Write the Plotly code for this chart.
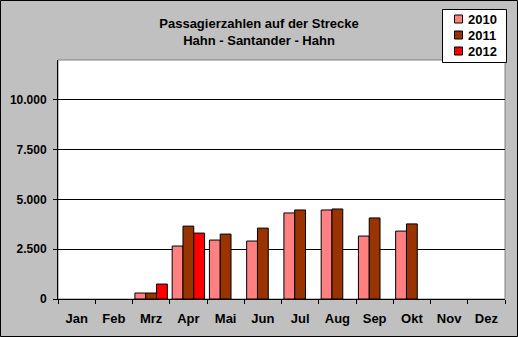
import plotly.graph_objects as go

months = ["Jan", "Feb", "Mrz", "Apr", "Mai", "Jun", "Jul", "Aug", "Sep", "Okt", "Nov", "Dez"]
v2010 = [None, None, 300, 2660, 2960, 2910, 4320, 4470, 3160, 3410, None, None]
v2011 = [None, None, 300, 3660, 3260, 3560, 4470, 4520, 4070, 3770, None, None]
v2012 = [None, None, 750, 3310, None, None, None, None, None, None, None, None]
series = [("2010", v2010, "#FF8080"), ("2011", v2011, "#993300"), ("2012", v2012, "#FF0000")]
yticks = [0, 2500, 5000, 7500, 10000]

W, H = 518, 337
L, R, T, B = 58, 13, 60, 38
pw, ph = W - L - R, H - T - B

font = "Liberation Sans, Arial, sans-serif"

fig = go.Figure()
for name, vals, col in series:
    fig.add_trace(go.Bar(x=months, y=vals, name=name, showlegend=False,
                         marker=dict(color=col, line=dict(color="black", width=1))))

# pixel -> paper helpers
def px(x):
    return (x - L) / pw

def py(y):
    return (H - B - y) / ph

shapes = [
    dict(type="rect", xref="paper", yref="paper", x0=0, x1=1, y0=0, y1=1,
         line=dict(color="#808080", width=1), layer="below"),
    dict(type="rect", xref="paper", yref="paper",
         x0=px(0.5), x1=px(W - 0.5), y0=py(H - 0.5), y1=py(0.5),
         line=dict(color="black", width=1)),
    # legend box
    dict(type="rect", xref="paper", yref="paper",
         x0=px(442.5), x1=px(506.5), y0=py(62.5), y1=py(9.5),
         fillcolor="white", line=dict(color="black", width=1)),
]
annotations = []
for i, (name, vals, col) in enumerate(series):
    cy = 19 + 16 * i
    shapes.append(dict(type="rect", xref="paper", yref="paper",
                       x0=px(454.5), x1=px(462.5), y0=py(cy + 4), y1=py(cy - 4),
                       fillcolor=col, line=dict(color="black", width=1)))
    annotations.append(dict(text="<b>%s</b>" % name, xref="paper", yref="paper",
                            x=px(466), y=py(cy + 0.5), xanchor="left", yanchor="middle",
                            showarrow=False, font=dict(family=font, size=13, color="black")))

fig.update_layout(
    width=W, height=H,
    margin=dict(l=L, r=R, t=T, b=B, autoexpand=False),
    paper_bgcolor="#C0C0C0", plot_bgcolor="white",
    barmode="group", bargap=0.13, bargroupgap=0,
    separators=",.",
    font=dict(family=font, size=12, color="black"),
    showlegend=False,
    title=dict(text="<b>Passagierzahlen auf der Strecke<br>Hahn - Santander - Hahn</b>",
               x=0.5, xanchor="center", xref="container", y=1 - 28 / H, yanchor="top",
               font=dict(family=font, size=13, color="black")),
    xaxis=dict(showline=True, linecolor="black", linewidth=1, ticks="outside", tickson="boundaries",
               ticklen=4, tickcolor="black", tickfont=dict(family=font, size=13, weight="bold"),
               tickangle=0, showgrid=False, ticklabelstandoff=7),
    yaxis=dict(range=[0, 12000], tickvals=yticks, tickformat=",d", showline=True, linecolor="black",
               linewidth=1, ticks="outside", ticklen=4, tickcolor="black", showgrid=True,
               gridcolor="black", gridwidth=1, zeroline=False, ticklabelstandoff=4,
               tickfont=dict(family=font, size=12, weight="bold")),
    shapes=shapes,
    annotations=annotations,
)
fig.write_html("out.html")
